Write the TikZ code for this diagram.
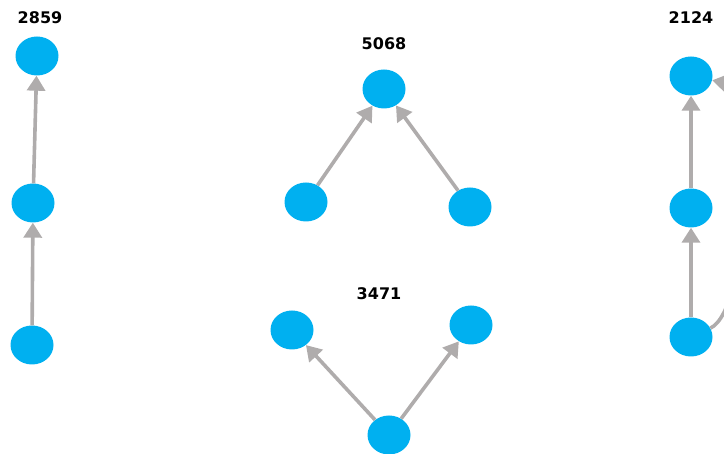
\documentclass[tikz,border=0pt]{standalone}
\usepackage{fontspec}
\setmainfont{DejaVu Sans}
\usetikzlibrary{shapes.geometric,arrows.meta}
\definecolor{nodeblue}{RGB}{0,176,240}
\definecolor{edgegray}{RGB}{175,172,172}
\tikzset{
  vtx/.style={ellipse, fill=nodeblue, draw=none, minimum width=43pt, minimum height=39pt, inner sep=0pt},
  edge/.style={draw=edgegray, line width=3.6pt, -{Triangle[length=15pt,width=18pt]}},
  lbl/.style={font=\fontsize{16}{18}\selectfont\bfseries, inner sep=0pt}
}
\begin{document}
\begin{tikzpicture}[x=1pt,y=-1pt]
\useasboundingbox (0,0) rectangle (724,454);
\clip (0,0) rectangle (724,454);
% group 2859
\node[lbl] (l1) at (40,18) {2859};
\node[vtx] (a1) at (37,56) {};
\node[vtx] (a2) at (33,203) {};
\node[vtx] (a3) at (32,345) {};
\draw[edge] (a3) -- (a2);
\draw[edge] (a2) -- (a1);
% group 5068
\node[lbl] (l2) at (384,44) {5068};
\node[vtx] (b1) at (384,89) {};
\node[vtx] (b2) at (306,202) {};
\node[vtx] (b3) at (470,207) {};
\draw[edge] (b2) -- (b1);
\draw[edge] (b3) -- (b1);
% group 3471
\node[lbl] (l3) at (379,294) {3471};
\node[vtx] (d1) at (292,330) {};
\node[vtx] (d2) at (471,325) {};
\node[vtx] (d3) at (389,435) {};
\draw[edge] (d3) -- (d1);
\draw[edge] (d3) -- (d2);
% group 2124
\node[lbl] (l4) at (691,18) {2124};
\node[vtx] (c1) at (691,76) {};
\node[vtx] (c2) at (691,208) {};
\node[vtx] (c3) at (691,337) {};
\draw[edge] (c3) -- (c2);
\draw[edge] (c2) -- (c1);
\draw[edge] (c3) .. controls (750,310) and (760,90) .. (c1);
\end{tikzpicture}
\end{document}
